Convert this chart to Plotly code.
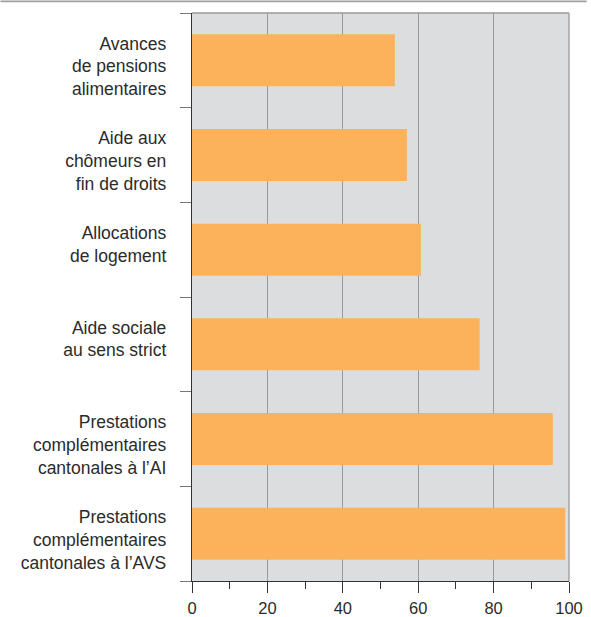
import plotly.graph_objects as go

categories = [
    "Avances<br>de pensions<br>alimentaires",
    "Aide aux<br>chômeurs en<br>fin de droits",
    "Allocations<br>de logement",
    "Aide sociale<br>au sens strict",
    "Prestations<br>complémentaires<br>cantonales à l’AI",
    "Prestations<br>complémentaires<br>cantonales à l’AVS",
]
values = [53.8, 57.0, 60.7, 76.3, 95.7, 99.0]
x_ticks = [0, 20, 40, 60, 80, 100]

FONT = "Liberation Sans, Arial, sans-serif"
TXT = "#2b2b2b"
FS = 17.5

# labels are top-aligned in the reference: pad short labels to three lines
tick_text = [c if c.count("<br>") >= 2 else c + "<br>\u00a0" for c in categories]

fig = go.Figure(go.Bar(
    x=values, y=categories, orientation="h",
    marker=dict(color="#fbb25a", line=dict(width=0)),
    width=0.55,
    hoverinfo="skip",
))

fig.update_layout(
    width=591, height=617,
    margin=dict(l=192, r=22, t=13, b=36, autoexpand=False),
    paper_bgcolor="white",
    plot_bgcolor="#dcdddf",
    showlegend=False,
    font=dict(family=FONT, size=FS, color=TXT),
    bargap=0.45,
)
fig.update_xaxes(
    range=[0, 100], tickvals=x_ticks, ticktext=[str(v) for v in x_ticks],
    showgrid=True, gridcolor="#9a9a9a", gridwidth=1,
    zeroline=False, automargin=False,
    showline=True, linecolor="#333333", linewidth=1.2,
    ticks="outside", ticklen=11, tickcolor="#333333", tickwidth=1,
    minor=dict(ticks="outside", ticklen=7, dtick=10, tick0=0, tickcolor="#333333", showgrid=False),
    tickfont=dict(family=FONT, size=16.5, color=TXT),
    ticklabelstandoff=1,
    fixedrange=True,
)
fig.update_yaxes(
    autorange="reversed", automargin=False,
    tickvals=categories, ticktext=tick_text,
    showgrid=False, zeroline=False,
    showline=True, linecolor="#333333", linewidth=1.2,
    ticks="outside", tickson="boundaries", ticklen=11, tickcolor="#777777", tickwidth=1,
    tickfont=dict(family=FONT, size=FS, color=TXT),
    ticklabelstandoff=21,
    ticklabelshift=-6,
    fixedrange=True,
)
# frame: top and right border in grey (paper refs so they are not clipped)
fig.add_shape(type="line", xref="paper", yref="paper", x0=0, x1=1, y0=1, y1=1,
              line=dict(color="#9a9a9a", width=1.3), layer="above")
fig.add_shape(type="line", xref="paper", yref="paper", x0=1, x1=1, y0=0, y1=1,
              line=dict(color="#9a9a9a", width=1.3), layer="above")
# page rule at the very top
fig.add_shape(type="line", xref="paper", yref="paper", x0=-0.508, x1=1.047, y0=1.0205, y1=1.0205,
              line=dict(color="#a0a0a0", width=1.6), layer="above")

fig.write_html("out.html", config={"displayModeBar": False, "staticPlot": True},
               post_script="document.body.style.margin='0';")
